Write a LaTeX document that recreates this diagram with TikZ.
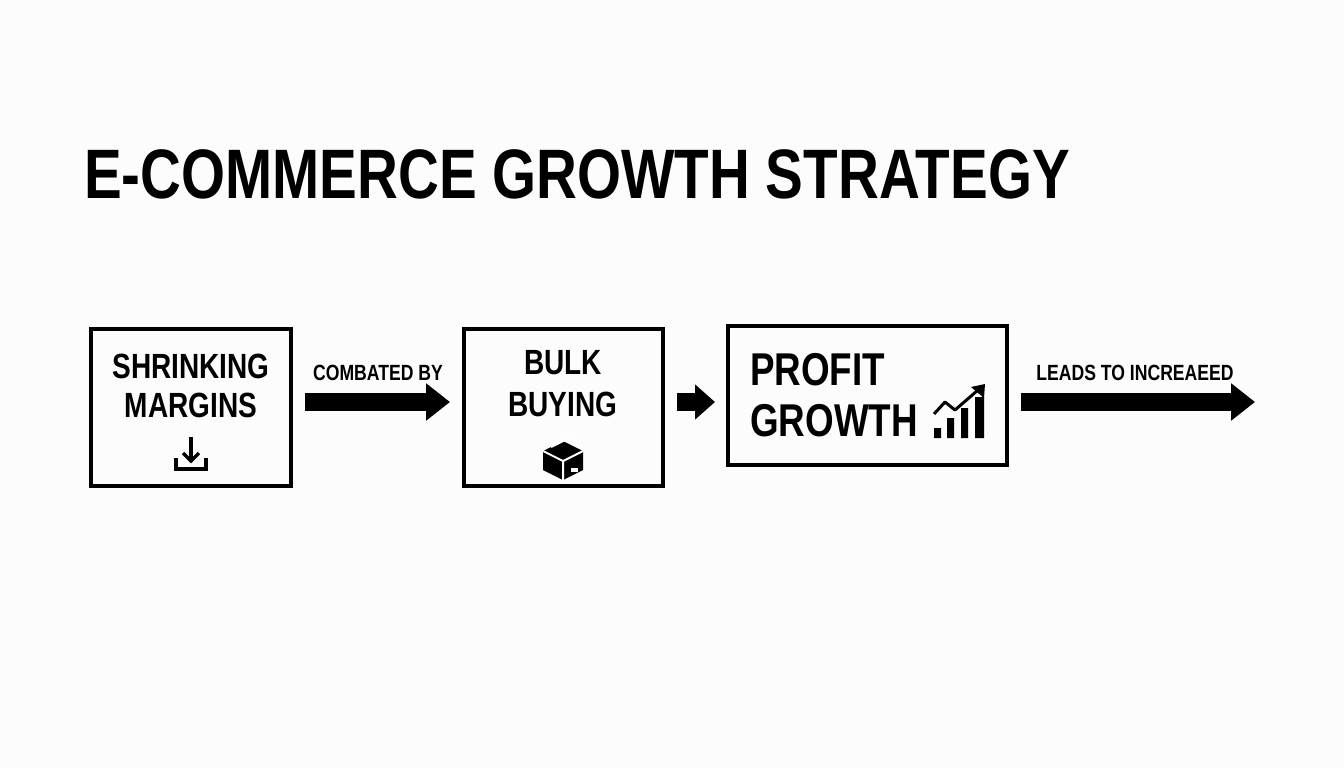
\documentclass[tikz,border=0pt]{standalone}
\usepackage{fontspec}
\setmainfont{Liberation Sans}[FakeStretch=0.8]
\usetikzlibrary{arrows.meta}
\begin{document}
\begin{tikzpicture}[x=1pt,y=-1pt,
  box/.style={draw,line width=4pt},
  lbl/.style={font=\bfseries\fontsize{22}{24}\selectfont,inner sep=0pt,text depth=0pt},
  bt/.style={font=\bfseries\fontsize{35}{38}\selectfont,inner sep=0pt,text depth=0pt},
  big/.style={font=\bfseries\fontsize{46}{50}\selectfont,inner sep=0pt,text depth=0pt},
  conn/.style={line width=18pt,-{Triangle[width=36pt,length=24pt]}}]
\fill[white!98!gray] (0,0) rectangle (1344,768);
\useasboundingbox (0,0) rectangle (1344,768);
\node[anchor=west,font=\bfseries\fontsize{70}{74}\selectfont,inner sep=0pt,text depth=0pt,xscale=1.01] (title) at (84,174) {E-COMMERCE GROWTH STRATEGY};
\node[box,minimum width=200pt,minimum height=157pt] (b1) at (191,407.5) {};
\node[box,minimum width=199pt,minimum height=157pt] (b2) at (563.5,407.5) {};
\node[box,minimum width=279pt,minimum height=139pt] (b3) at (867.5,395.5) {};
\node[bt] (t1a) at (191,366) {SHRINKING};
\node[bt] (t1b) at (191,405) {MARGINS};
\node[bt] (t2a) at (563,362) {BULK};
\node[bt] (t2b) at (563,404) {BUYING};
\node[big,anchor=west] (t3a) at (750,369) {PROFIT};
\node[big,anchor=west] (t3b) at (750,420) {GROWTH};
% download icon
\draw[line width=3.5pt] (191,437) -- (191,462);
\draw[line width=3.5pt,line join=miter] (183,453) -- (191,461) -- (199,453);
\draw[line width=3.5pt] (176,458) -- (176,469) -- (206,469) -- (206,458);
% package icon
\fill (563,441) -- (583,451) -- (583,470) -- (563,480) -- (543,470) -- (543,451) -- cycle;
\draw[white,line width=2pt] (543,451) -- (563,461) -- (583,451) (563,461) -- (563,480);
\draw[white,line width=2pt] (551,447) -- (571,437);
\fill[white] (571,468) rectangle (578,472);
% chart icon
\fill (934,428) rectangle (941,438) (947,418) rectangle (954,438) (961,408) rectangle (968,438) (975,397) rectangle (984,438);
\draw[line width=3pt,line join=round] (934,414) -- (945,402) -- (955,410) -- (978,390);
\fill (985,384) -- (984,398) -- (971,387) -- cycle;
% connectors
\coordinate (s1) at (305,402);
\coordinate (e1) at (450,402);
\coordinate (s2) at (677,402);
\coordinate (e2) at (715,402);
\coordinate (s3) at (1021,402);
\coordinate (e3) at (1255,402);
\draw[conn] (s1) -- (e1);
\draw[line width=18pt,-{Triangle[width=34pt,length=20pt]}] (s2) -- (e2);
\draw[conn] (s3) -- (e3);
\node[lbl] (l1) at (378,373) {COMBATED BY};
\node[lbl] (l3) at (1135,373) {LEADS TO INCREAEED};
\end{tikzpicture}
\end{document}
